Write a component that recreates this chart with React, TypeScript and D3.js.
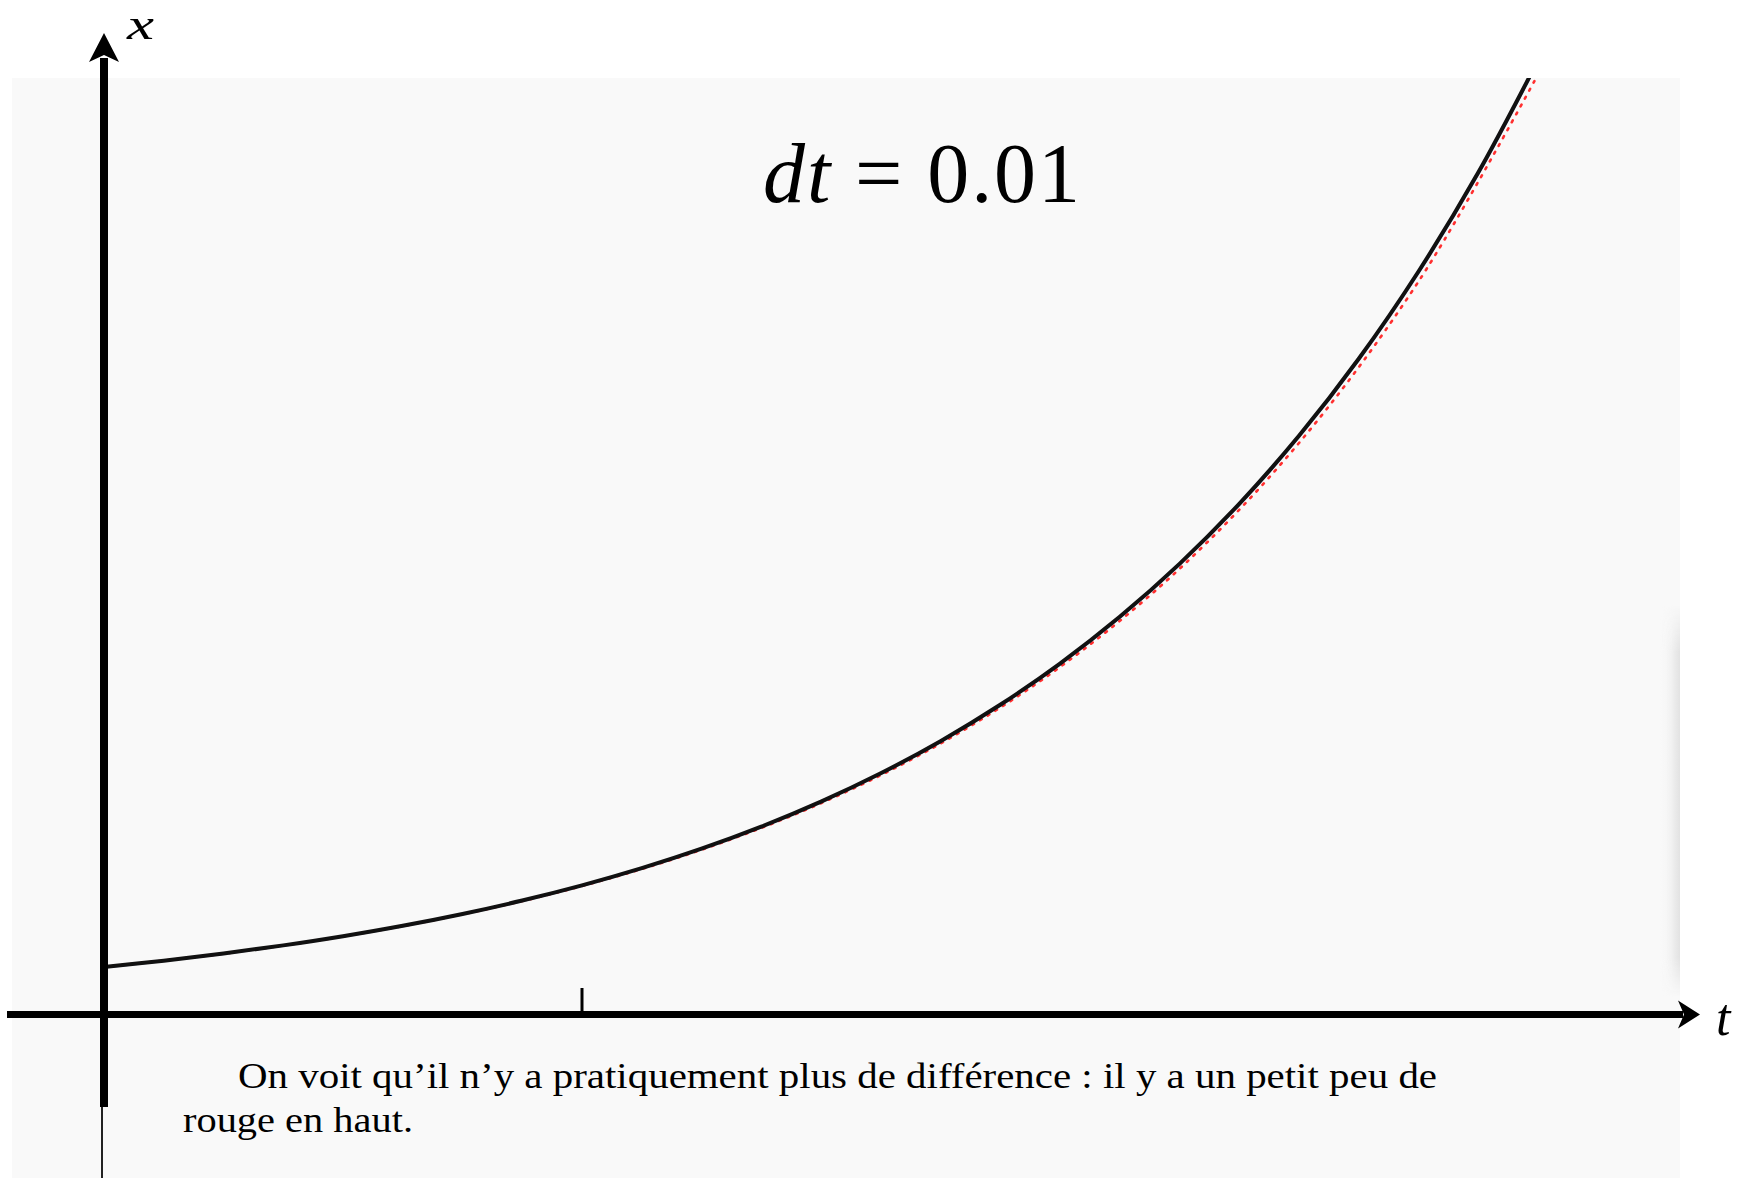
import React from "react";
import * as d3 from "d3";

// Time grid (t) and solution values x(t) for x' = x, x(0) = 1
const tFine = [0, 0.125, 0.25, 0.375, 0.5, 0.625, 0.75, 0.875, 1, 1.125, 1.25, 1.375, 1.5, 1.625, 1.75, 1.875, 2, 2.125, 2.25, 2.375, 2.5, 2.625, 2.75, 2.875, 3];
const exactValues = [1, 1.1331, 1.284, 1.455, 1.6487, 1.8682, 2.117, 2.3989, 2.7183, 3.0802, 3.4903, 3.9551, 4.4817, 5.0784, 5.7546, 6.5208, 7.3891, 8.3729, 9.4877, 10.751, 12.1825, 13.8046, 15.6426, 17.7254, 20.0855];

// Euler scheme with dt = 0.01, sampled every 0.25
const tCoarse = [0, 0.25, 0.5, 0.75, 1, 1.25, 1.5, 1.75, 2, 2.25, 2.5, 2.75, 3];
const eulerValues = [1, 1.2824, 1.6446, 2.1091, 2.7048, 3.4688, 4.4484, 5.7048, 7.316, 9.3824, 12.032, 15.431, 19.789];

const tTicks = [1];
const captionLine1 = "On voit qu\u2019il n\u2019y a pratiquement plus de diff\u00e9rence : il y a un petit peu de";
const captionLine2 = "rouge en haut.";

const W = 1740;
const H = 1178;

export default function App() {
  const x = d3.scaleLinear().domain([0, 1]).range([104, 582]);
  const y = d3.scaleLinear().domain([0, 1]).range([1014.5, 967]);

  const line = d3
    .line<[number, number]>()
    .x((d) => x(d[0]))
    .y((d) => y(d[1]))
    .curve(d3.curveCatmullRom.alpha(0.5));

  const exactPath = line(tFine.map((t, i) => [t, exactValues[i]] as [number, number])) || "";
  const eulerPath = line(tCoarse.map((t, i) => [t, eulerValues[i]] as [number, number])) || "";

  const x0 = x(0);
  const y0 = y(0);
  const serif = "'Liberation Serif', 'DejaVu Serif', serif";

  return (
    <svg
      width={W}
      height={H}
      viewBox={`0 0 ${W} ${H}`}
      style={{ position: "absolute", left: 0, top: 0, background: "#ffffff" }}
    >
      <defs>
        <clipPath id="panel-clip">
          <rect x={12} y={78} width={1668} height={H - 78} />
        </clipPath>
        <linearGradient id="edge-shade" x1="0" x2="1" y1="0" y2="0">
          <stop offset="0" stopColor="#f9f9f9" stopOpacity={0} />
          <stop offset="0.7" stopColor="#ececec" stopOpacity={1} />
          <stop offset="1" stopColor="#e2e2e2" stopOpacity={1} />
        </linearGradient>
        <linearGradient id="edge-fade" x1="0" x2="0" y1="0" y2="1">
          <stop offset="0" stopColor="#fff" stopOpacity={0} />
          <stop offset="0.12" stopColor="#fff" stopOpacity={1} />
          <stop offset="0.9" stopColor="#fff" stopOpacity={1} />
          <stop offset="1" stopColor="#fff" stopOpacity={0} />
        </linearGradient>
        <mask id="edge-mask">
          <rect x={1660} y={605} width={20} height={392} fill="url(#edge-fade)" />
        </mask>
      </defs>

      {/* page panel */}
      <rect x={12} y={78} width={1668} height={H - 78} fill="#f9f9f9" />
      <rect x={1660} y={605} width={20} height={392} fill="url(#edge-shade)" mask="url(#edge-mask)" />

      {/* solution curves */}
      <g clipPath="url(#panel-clip)" fill="none">
        <path d={eulerPath} stroke="#ff3030" strokeWidth={2.6} strokeDasharray="2 7" strokeLinecap="round" />
        <path d={exactPath} stroke="#3a5bd8" strokeWidth={2} strokeOpacity={0.5} transform="translate(0.8,0.4)" />
        <path d={exactPath} stroke="#111111" strokeWidth={4} />
      </g>

      {/* t axis */}
      <line x1={7} x2={1683} y1={y0} y2={y0} stroke="#000" strokeWidth={7} />
      <path d={`M1700,${y0} L1678,${y0 - 14} L1684,${y0} L1678,${y0 + 14} Z`} fill="#000" />
      {tTicks.map((t) => (
        <line key={t} x1={x(t)} x2={x(t)} y1={988} y2={y0} stroke="#000" strokeWidth={3} />
      ))}

      {/* x axis */}
      <line x1={x0} x2={x0} y1={58} y2={1107} stroke="#000" strokeWidth={8} />
      <line x1={x0 - 2} x2={x0 - 2} y1={1107} y2={H} stroke="#222" strokeWidth={2} />
      <path d={`M${x0},33 L${x0 - 15},62 L${x0},55 L${x0 + 15},62 Z`} fill="#000" />

      {/* axis labels */}
      <text x={127} y={39} fontFamily={serif} fontStyle="italic" fontSize={43.5} fill="#000" textLength={27} lengthAdjust="spacingAndGlyphs">x</text>
      <text x={1716} y={1035} fontFamily={serif} fontStyle="italic" fontSize={52} fill="#000">t</text>

      {/* title */}
      <text x={763} y={202} fontFamily={serif} fontSize={84} fill="#000" textLength={317} lengthAdjust="spacing">
        <tspan fontStyle="italic">dt</tspan>
        <tspan> = 0.01</tspan>
      </text>

      {/* caption */}
      <text x={238} y={1088} fontFamily={serif} fontSize={35} fill="#000" textLength={1199} lengthAdjust="spacingAndGlyphs">
        {captionLine1}
      </text>
      <text x={183} y={1132} fontFamily={serif} fontSize={35} fill="#000" textLength={230} lengthAdjust="spacingAndGlyphs">
        {captionLine2}
      </text>
    </svg>
  );
}
